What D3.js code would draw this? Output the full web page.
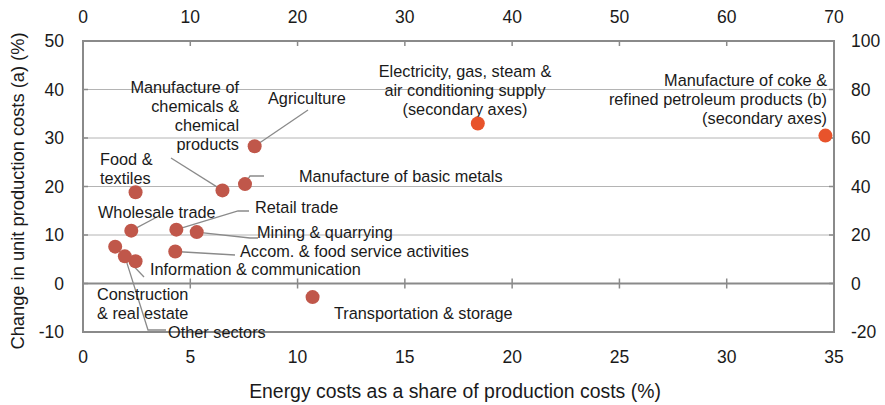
<!DOCTYPE html>
<html>
<head>
<meta charset="utf-8">
<script src="https://cdn.jsdelivr.net/npm/d3@7"></script>
<style>
  body { margin: 0; background: #fff; }
  svg { font-family: "Liberation Sans", Arial, Helvetica, sans-serif; }
</style>
</head>
<body>
<script>
// primary series (bottom / left axes)
const sectors = ['Agriculture', 'Manufacture of chemicals & chemical products', 'Manufacture of basic metals',
  'Food & textiles', 'Wholesale trade', 'Retail trade', 'Mining & quarrying', 'Accom. & food service activities',
  'Information & communication', 'Construction & real estate', 'Other sectors', 'Transportation & storage']
const energyShare = [8.0, 6.5, 7.55, 2.45, 2.25, 4.35, 5.3, 4.3, 2.45, 1.5, 1.95, 10.7]
const costChange = [28.3, 19.2, 20.5, 18.8, 10.9, 11.1, 10.6, 6.6, 4.6, 7.6, 5.6, -2.8]

// secondary series (top / right axes)
const secSectors = ['Electricity, gas, steam & air conditioning supply', 'Manufacture of coke & refined petroleum products (b)']
const secEnergyShare = [36.8, 69.2]
const secCostChange = [66, 61]

const xTicks = [0, 5, 10, 15, 20, 25, 30, 35]
const yTicks = [-10, 0, 10, 20, 30, 40, 50]
const x2Ticks = [0, 10, 20, 30, 40, 50, 60, 70]
const y2Ticks = [-20, 0, 20, 40, 60, 80, 100]

// label placement (pixels)
const labels = {
  'Agriculture': { lines: ['Agriculture'], x: 268, y: 98, anchor: 'start', leader: [[308, 110]] },
  'Manufacture of chemicals & chemical products': { lines: ['Manufacture of', 'chemicals &', 'chemical', 'products'], x: 239, y: 87, anchor: 'end', leader: [[171, 158]] },
  'Manufacture of basic metals': { lines: ['Manufacture of basic metals'], x: 299, y: 176, anchor: 'start', leader: [[250, 176], [264, 176]] },
  'Food & textiles': { lines: ['Food &', 'textiles'], x: 100, y: 159, anchor: 'start' },
  'Wholesale trade': { lines: ['Wholesale trade'], x: 98, y: 212, anchor: 'start', leader: [[157, 217]] },
  'Retail trade': { lines: ['Retail trade'], x: 255, y: 207, anchor: 'start', leader: [[238, 211], [249, 211]] },
  'Mining & quarrying': { lines: ['Mining & quarrying'], x: 257, y: 232, anchor: 'start', leader: [[250, 238], [258, 238]] },
  'Accom. & food service activities': { lines: ['Accom. & food service activities'], x: 240, y: 251, anchor: 'start', leader: [[235, 255]] },
  'Information & communication': { lines: ['Information & communication'], x: 150, y: 269, anchor: 'start' },
  'Construction & real estate': { lines: ['Construction', '& real estate'], x: 97, y: 294, anchor: 'start', leader: [[144, 277]] },
  'Other sectors': { lines: ['Other sectors'], x: 168, y: 332, anchor: 'start', leader: [[148, 330], [166, 330]] },
  'Transportation & storage': { lines: ['Transportation & storage'], x: 334, y: 313, anchor: 'start' },
  'Electricity, gas, steam & air conditioning supply': { lines: ['Electricity, gas, steam &', 'air conditioning supply', '(secondary axes)'], x: 465, y: 71, anchor: 'middle' },
  'Manufacture of coke & refined petroleum products (b)': { lines: ['Manufacture of coke &', 'refined petroleum products (b)', '(secondary axes)'], x: 827, y: 80, anchor: 'end' }
}

const width = 885, height = 405
const plotLeft = 83, plotRight = 834, plotTop = 41, plotBottom = 332
const frameColor = '#8a8a8a'

const svg = d3.select('body')
  .append('svg')
  .attr('width', width)
  .attr('height', height)

const x = d3.scaleLinear().domain([0, 35]).range([plotLeft, plotRight])
const y = d3.scaleLinear().domain([-10, 50]).range([plotBottom, plotTop])
const x2 = d3.scaleLinear().domain([0, 70]).range([plotLeft, plotRight])
const y2 = d3.scaleLinear().domain([-20, 100]).range([plotBottom, plotTop])

// gridlines
svg.append('g')
  .selectAll('line')
  .data(yTicks.filter(d => d !== -10 && d !== 0 && d !== 50))
  .join('line')
  .attr('x1', plotLeft).attr('x2', plotRight)
  .attr('y1', d => y(d)).attr('y2', d => y(d))
  .attr('stroke', '#b4b4b4')
  .attr('stroke-width', 1)

// frame
svg.append('rect')
  .attr('x', plotLeft).attr('y', plotTop)
  .attr('width', plotRight - plotLeft).attr('height', plotBottom - plotTop)
  .attr('fill', 'none')
  .attr('stroke', frameColor)
  .attr('stroke-width', 2)

// zero line with crossing ticks
svg.append('line')
  .attr('x1', plotLeft).attr('x2', plotRight)
  .attr('y1', y(0)).attr('y2', y(0))
  .attr('stroke', frameColor).attr('stroke-width', 2)

svg.append('g')
  .selectAll('line')
  .data(xTicks.slice(1, -1))
  .join('line')
  .attr('x1', d => x(d)).attr('x2', d => x(d))
  .attr('y1', y(0) - 5).attr('y2', y(0) + 5)
  .attr('stroke', frameColor).attr('stroke-width', 1.5)

// top ticks (inward)
svg.append('g')
  .selectAll('line')
  .data(x2Ticks.slice(1, -1))
  .join('line')
  .attr('x1', d => x2(d)).attr('x2', d => x2(d))
  .attr('y1', plotTop).attr('y2', plotTop + 5)
  .attr('stroke', frameColor).attr('stroke-width', 1.5)

// left ticks (inward)
svg.append('g')
  .selectAll('line')
  .data(yTicks.slice(1, -1))
  .join('line')
  .attr('x1', plotLeft).attr('x2', plotLeft + 5)
  .attr('y1', d => y(d)).attr('y2', d => y(d))
  .attr('stroke', frameColor).attr('stroke-width', 1.5)

// right ticks (inward)
svg.append('g')
  .selectAll('line')
  .data(y2Ticks.slice(1, -1))
  .join('line')
  .attr('x1', plotRight - 5).attr('x2', plotRight)
  .attr('y1', d => y2(d)).attr('y2', d => y2(d))
  .attr('stroke', frameColor).attr('stroke-width', 1.5)

// tick labels
const tickSize = '17.5px'
svg.append('g')
  .selectAll('text')
  .data(xTicks)
  .join('text')
  .attr('x', d => x(d)).attr('y', 363)
  .attr('text-anchor', 'middle')
  .attr('font-size', tickSize)
  .attr('fill', '#1a1a1a')
  .text(d => d)

svg.append('g')
  .selectAll('text')
  .data(x2Ticks)
  .join('text')
  .attr('x', d => x2(d)).attr('y', 23)
  .attr('text-anchor', 'middle')
  .attr('font-size', tickSize)
  .attr('fill', '#1a1a1a')
  .text(d => d)

svg.append('g')
  .selectAll('text')
  .data(yTicks)
  .join('text')
  .attr('x', 64).attr('y', d => y(d))
  .attr('dy', '0.36em')
  .attr('text-anchor', 'end')
  .attr('font-size', tickSize)
  .attr('fill', '#1a1a1a')
  .text(d => d)

svg.append('g')
  .selectAll('text')
  .data(y2Ticks)
  .join('text')
  .attr('x', 851).attr('y', d => y2(d))
  .attr('dy', '0.36em')
  .attr('text-anchor', 'start')
  .attr('font-size', tickSize)
  .attr('fill', '#1a1a1a')
  .text(d => d)

// axis titles
svg.append('text')
  .attr('x', 455).attr('y', 398)
  .attr('text-anchor', 'middle')
  .attr('font-size', '19.4px')
  .attr('fill', '#1a1a1a')
  .text('Energy costs as a share of production costs (%)')

svg.append('text')
  .attr('transform', 'translate(24,191) rotate(-90)')
  .attr('text-anchor', 'middle')
  .attr('font-size', '18.3px')
  .attr('fill', '#1a1a1a')
  .text('Change in unit production costs (a) (%)')

// leaders and labels
const primaryPts = sectors.map((s, i) => ({ name: s, px: x(energyShare[i]), py: y(costChange[i]), color: '#c0574a' }))
const secondaryPts = secSectors.map((s, i) => ({ name: s, px: x2(secEnergyShare[i]), py: y2(secCostChange[i]), color: '#e8532b' }))
const allPts = primaryPts.concat(secondaryPts)

const line = d3.line()
svg.append('g')
  .selectAll('path')
  .data(allPts.filter(d => labels[d.name].leader))
  .join('path')
  .attr('d', d => line([[d.px, d.py]].concat(labels[d.name].leader)))
  .attr('fill', 'none')
  .attr('stroke', '#8a8a8a')
  .attr('stroke-width', 1.3)

const lab = svg.append('g')
  .selectAll('text')
  .data(allPts)
  .join('text')
  .attr('text-anchor', d => labels[d.name].anchor)
  .attr('font-size', '16.3px')
  .attr('fill', '#1a1a1a')

lab.selectAll('tspan')
  .data(d => labels[d.name].lines.map((t, j) => ({ t, j, L: labels[d.name] })))
  .join('tspan')
  .attr('x', d => d.L.x)
  .attr('y', d => d.L.y + d.j * 19)
  .attr('dy', '0.35em')
  .text(d => d.t)

// points
svg.append('g')
  .selectAll('circle')
  .data(allPts)
  .join('circle')
  .attr('cx', d => d.px)
  .attr('cy', d => d.py)
  .attr('r', 7)
  .attr('fill', d => d.color)
</script>
</body>
</html>
